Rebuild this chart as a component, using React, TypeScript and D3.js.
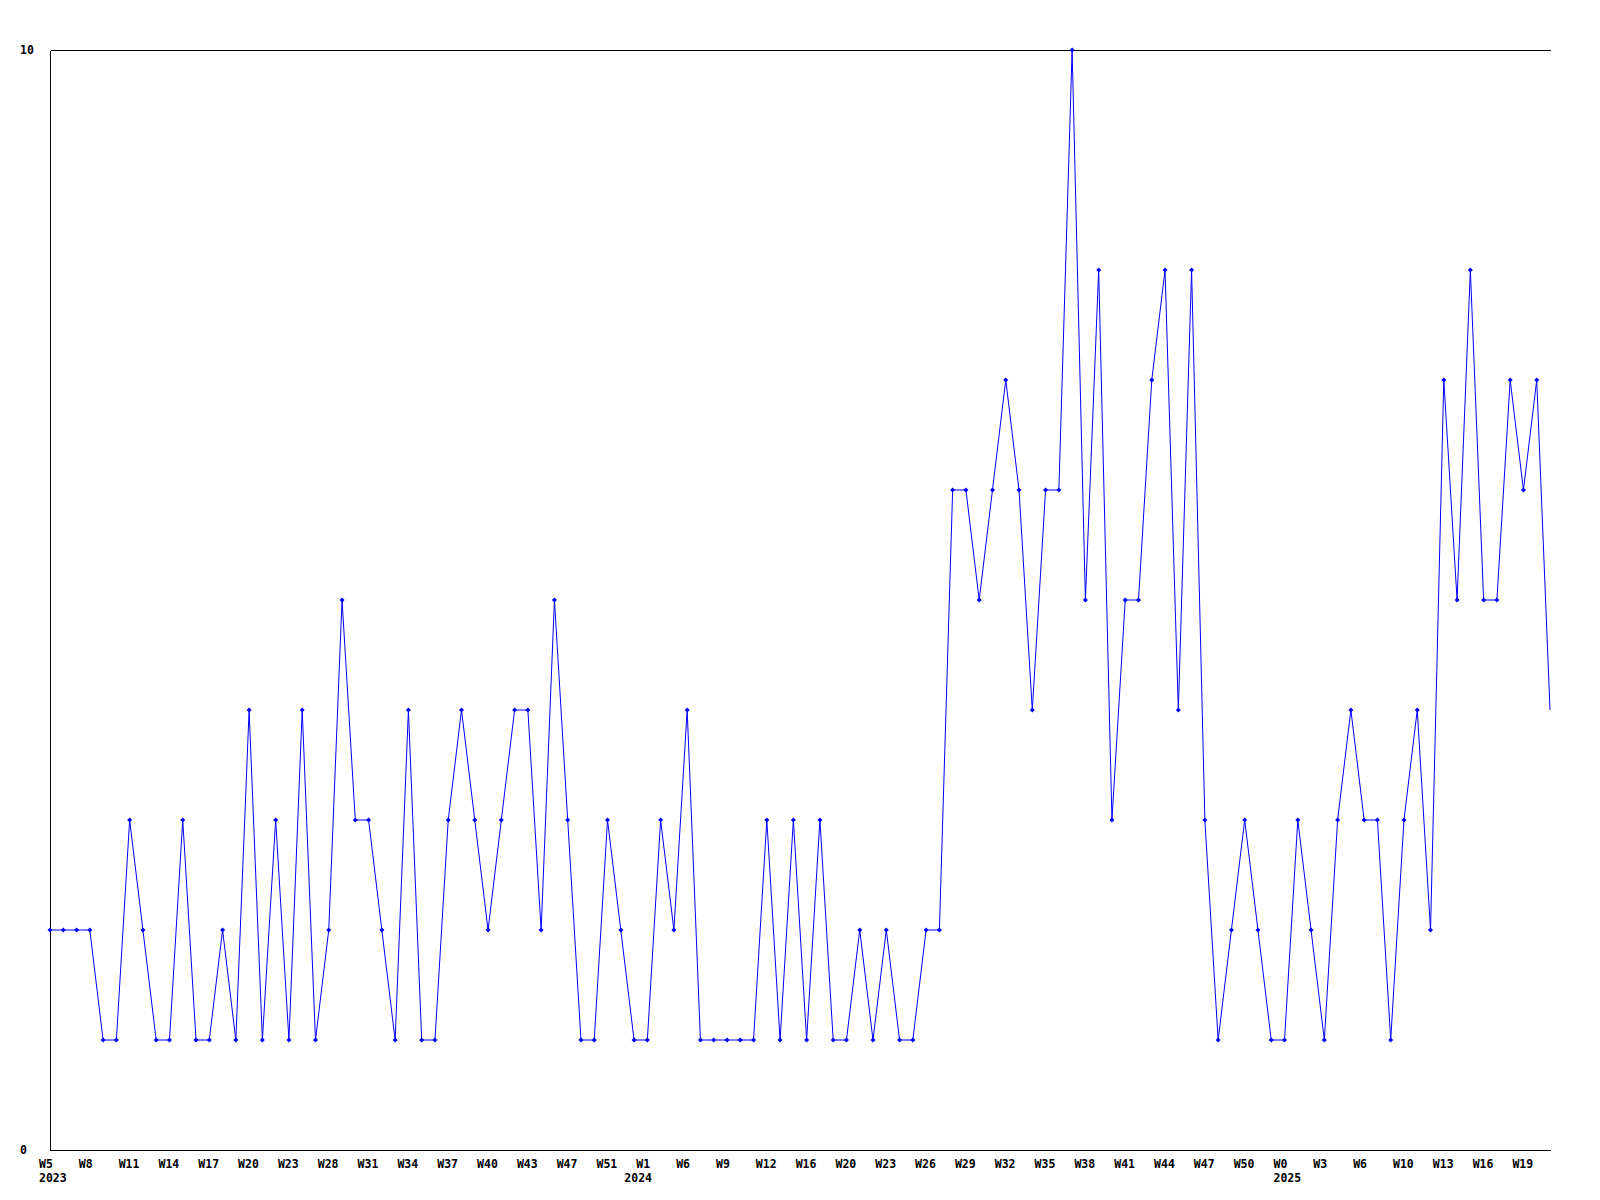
import { useMemo } from "react";
import * as d3 from "d3";

// weekly counts, one per week from 2023 W5 onward
const values = [
  2, 2, 2, 2, 1, 1, 3, 2, 1, 1,
  3, 1, 1, 2, 1, 4, 1, 3, 1, 4,
  1, 2, 5, 3, 3, 2, 1, 4, 1, 1,
  3, 4, 3, 2, 3, 4, 4, 2, 5, 3,
  1, 1, 3, 2, 1, 1, 3, 2, 4, 1,
  1, 1, 1, 1, 3, 1, 3, 1, 3, 1,
  1, 2, 1, 2, 1, 1, 2, 2, 6, 6,
  5, 6, 7, 6, 4, 6, 6, 10, 5, 8,
  3, 5, 5, 7, 8, 4, 8, 3, 1, 2,
  3, 2, 1, 1, 3, 2, 1, 3, 4, 3,
  3, 1, 3, 4, 2, 7, 5, 8, 5, 5,
  7, 6, 7, 4,
];

// every third week gets a label
const weekLabels = [
  "W5", "W8", "W11", "W14", "W17", "W20", "W23", "W28", "W31", "W34",
  "W37", "W40", "W43", "W47", "W51", "W1", "W6", "W9", "W12", "W16",
  "W20", "W23", "W26", "W29", "W32", "W35", "W38", "W41", "W44", "W47",
  "W50", "W0", "W3", "W6", "W10", "W13", "W16", "W19",
];
const labelStep = 3;

const yearLabels = ["2023", "2024", "2025"];
const yearLabelAt = [0, 15, 31]; // index into weekLabels

const yTicks = [0, 10];

const W = 1600;
const H = 1200;
const margin = { top: 50, right: 50, bottom: 50, left: 50 };
const font = "'DejaVu Sans Mono', monospace";
const fs = 11.5;

export default function App() {
  const x = useMemo(
    () =>
      d3
        .scaleLinear()
        .domain([0, values.length - 1])
        .range([margin.left, W - margin.right]),
    []
  );
  const y = useMemo(
    () =>
      d3
        .scaleLinear()
        .domain([0, 10])
        .range([H - margin.bottom, margin.top]),
    []
  );

  const line = d3
    .line<number>()
    .x((_, i) => x(i))
    .y((d) => y(d));

  const diamond = (cx: number, cy: number) =>
    `M${cx},${cy - 2.5}L${cx + 2.5},${cy}L${cx},${cy + 2.5}L${cx - 2.5},${cy}Z`;

  const x0 = Math.round(x(0)) + 0.5;
  const x1 = Math.round(x(values.length - 1)) + 0.5;
  const yBottom = Math.round(y(0)) + 0.5;
  const yTop = Math.round(y(10)) + 0.5;

  return (
    <div style={{ position: "absolute", left: 0, top: 0 }}>
      <svg width={W} height={H} style={{ display: "block", background: "#fff" }}>
        {/* frame: left axis, bottom axis, top line */}
        <g stroke="#000" strokeWidth={1} shapeRendering="crispEdges">
          <line x1={x0} x2={x0} y1={yTop} y2={yBottom} />
          <line x1={x0} x2={x1} y1={yBottom} y2={yBottom} />
          <line x1={x0} x2={x1} y1={yTop} y2={yTop} />
        </g>

        {/* y tick labels */}
        {yTicks.map((t) => (
          <text
            key={t}
            x={20}
            y={y(t)}
            dy="0.35em"
            fontFamily={font}
            fontWeight="bold"
            fontSize={fs}
          >
            {t}
          </text>
        ))}

        {/* x tick labels, left edge a little before the point */}
        {weekLabels.map((lab, i) => (
          <text
            key={i}
            x={x(i * labelStep) - 11}
            y={1167.5}
            fontFamily={font}
            fontWeight="bold"
            fontSize={fs}
          >
            {lab}
          </text>
        ))}
        {yearLabels.map((yr, k) => {
          const li = yearLabelAt[k];
          const shift = k === 1 ? 12 : 0;
          return (
            <text
              key={yr}
              x={x(li * labelStep) - 11 - shift}
              y={1181.5}
              fontFamily={font}
              fontWeight="bold"
              fontSize={fs}
            >
              {yr}
            </text>
          );
        })}

        {/* series */}
        <path d={line(values) ?? ""} fill="none" stroke="#0000ff" strokeWidth={1} />
        <g fill="#0000ff">
          {values.slice(0, -1).map((v, i) => (
            <path key={i} d={diamond(x(i), y(v))} />
          ))}
        </g>
      </svg>
    </div>
  );
}
